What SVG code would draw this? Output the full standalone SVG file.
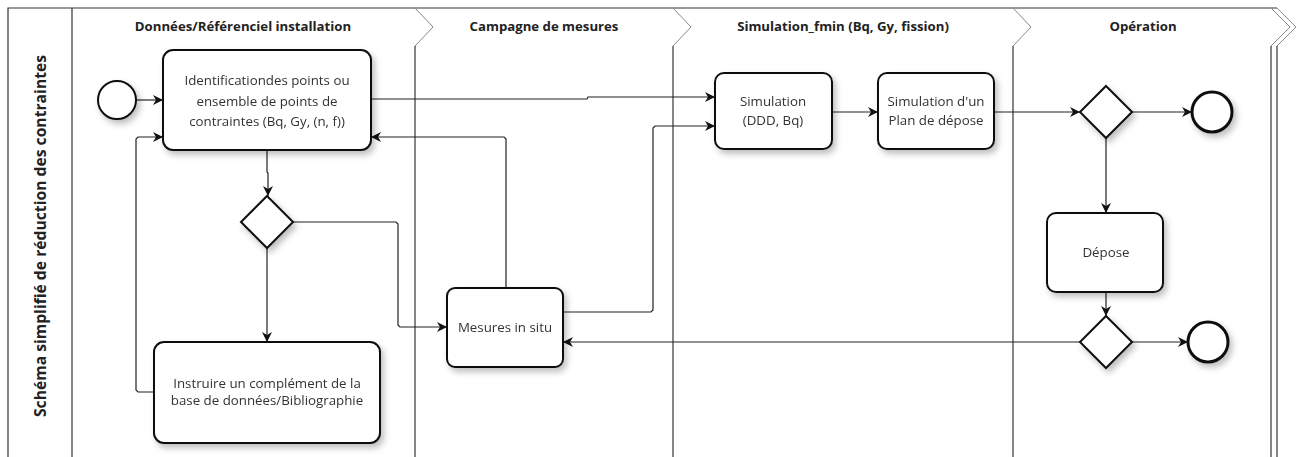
<svg xmlns="http://www.w3.org/2000/svg" width="1299" height="457" viewBox="0 0 1299 457">
<style>
.frame{fill:none;stroke:#333;stroke-width:1.2}
.chev{fill:none;stroke:#888;stroke-width:1}
.hdr{font-family:"Open Sans","Noto Sans",sans-serif;font-size:13.2px;font-weight:bold;fill:#222;text-anchor:middle}
.ttl{font-family:"Open Sans","Noto Sans",sans-serif;font-size:15.7px;font-weight:bold;fill:#222;text-anchor:middle}
.task{fill:#fff;stroke:#111;stroke-width:2}
.lbl{font-family:"Open Sans","Noto Sans",sans-serif;font-size:13.3px;fill:#333;text-anchor:middle}
.gw{fill:#fff;stroke:#111;stroke-width:2}
.ev{fill:#fff;stroke:#111;stroke-width:2}
.evend{fill:#fff;stroke:#111;stroke-width:3}
.conn{fill:none;stroke:#222;stroke-width:1.2;marker-end:url(#arr)}
</style>
<defs>
<marker id="arr" markerUnits="userSpaceOnUse" markerWidth="11" markerHeight="10" refX="10" refY="5" orient="auto">
<path d="M0,0 L10,5 L0,10 L3,5 Z" fill="#111"/>
</marker>
<filter id="sh" x="-20%" y="-20%" width="150%" height="160%">
<feDropShadow dx="3" dy="4" stdDeviation="3" flood-color="#000" flood-opacity="0.25"/>
</filter>
</defs>
<rect width="1299" height="457" fill="#fff"/>
<g id="pool">
<path class="frame" d="M8,457 L8,8 L1277,8"/>
<line class="frame" x1="72" y1="8" x2="72" y2="457"/>
<text class="ttl" transform="translate(46,236) rotate(-90)">Schéma simplifié de réduction des contraintes</text>
<path class="chev" d="M415,8 L433,27 L415,46"/>
<line class="frame" x1="415" y1="46" x2="415" y2="457"/>
<path class="chev" d="M673,8 L691,27 L673,46"/>
<line class="frame" x1="673" y1="46" x2="673" y2="457"/>
<path class="chev" d="M1013,8 L1031,27 L1013,46"/>
<line class="frame" x1="1013" y1="46" x2="1013" y2="457"/>
<path class="chev" d="M1271,8 L1290,27 L1271,46"/>
<path class="chev" d="M1277,8 L1296,27 L1277,46"/>
<line class="frame" x1="1271" y1="46" x2="1271" y2="457"/>
<line class="frame" x1="1277" y1="46" x2="1277" y2="457"/>
<text class="hdr" x="243" y="31">Données/Référenciel installation</text>
<text class="hdr" x="544" y="31">Campagne de mesures</text>
<text class="hdr" x="843" y="31">Simulation_fmin (Bq, Gy, fission)</text>
<text class="hdr" x="1143" y="31">Opération</text>
</g>
<g id="connectors">
<path class="conn" d="M136,100 L163,100"/>
<path class="conn" d="M154,392 L138,392 L136,390 L136,139 L138,137 L163,137"/>
<path class="conn" d="M506,288 L506,139 L504,137 L371,137"/>
<path class="conn" d="M267,150 L267,172 L268,173 L268,196"/>
<path class="conn" d="M267,248 L267,342"/>
<path class="conn" d="M293,222 L396,222 L398,224 L398,325 L400,327 L447,327"/>
<path class="conn" d="M371,99 L587,99 L588,97 L715,97"/>
<path class="conn" d="M563,312 L651,312 L653,310 L653,128 L655,126 L715,126"/>
<path class="conn" d="M832,112 L878,112"/>
<path class="conn" d="M994,112 L1080,112"/>
<path class="conn" d="M1132,112 L1192,112"/>
<path class="conn" d="M1106,138 L1106,213"/>
<path class="conn" d="M1106,292 L1106,316"/>
<path class="conn" d="M1132,342 L1188,342"/>
<path class="conn" d="M1080,342 L563,342"/>
</g>
<g id="start" filter="url(#sh)"><circle class="ev" cx="117" cy="100" r="19"/></g>
<g id="task-identification" filter="url(#sh)">
<rect class="task" x="163" y="50" width="208" height="100" rx="10"/>
<text class="lbl" x="267" y="85">Identificationdes points ou</text>
<text class="lbl" x="267" y="106">ensemble de points de</text>
<text class="lbl" x="267" y="126">contraintes (Bq, Gy, (n, f))</text>
</g>
<g id="gateway-1" filter="url(#sh)"><path class="gw" d="M267,196 L293,222 L267,248 L241,222 Z"/></g>
<g id="task-instruire" filter="url(#sh)">
<rect class="task" x="154" y="342" width="226" height="101" rx="10"/>
<text class="lbl" x="267" y="388">Instruire un complément de la</text>
<text class="lbl" x="267" y="405">base de données/Bibliographie</text>
</g>
<g id="task-mesures" filter="url(#sh)">
<rect class="task" x="447" y="288" width="116" height="79" rx="8"/>
<text class="lbl" x="505" y="332">Mesures in situ</text>
</g>
<g id="task-simulation" filter="url(#sh)">
<rect class="task" x="715" y="73" width="117" height="76" rx="9"/>
<text class="lbl" x="773" y="106">Simulation</text>
<text class="lbl" x="773" y="125">(DDD, Bq)</text>
</g>
<g id="task-plan" filter="url(#sh)">
<rect class="task" x="878" y="73" width="116" height="76" rx="9"/>
<text class="lbl" x="936" y="106">Simulation d'un</text>
<text class="lbl" x="936" y="125">Plan de dépose</text>
</g>
<g id="gateway-2" filter="url(#sh)"><path class="gw" d="M1106,86 L1132,112 L1106,138 L1080,112 Z"/></g>
<g id="end-1" filter="url(#sh)"><circle class="evend" cx="1212" cy="112" r="20"/></g>
<g id="task-depose" filter="url(#sh)">
<rect class="task" x="1047" y="213" width="116" height="79" rx="9"/>
<text class="lbl" x="1106" y="257">Dépose</text>
</g>
<g id="gateway-3" filter="url(#sh)"><path class="gw" d="M1106,316 L1132,342 L1106,368 L1080,342 Z"/></g>
<g id="end-2" filter="url(#sh)"><circle class="evend" cx="1208" cy="342" r="20"/></g>
</svg>
